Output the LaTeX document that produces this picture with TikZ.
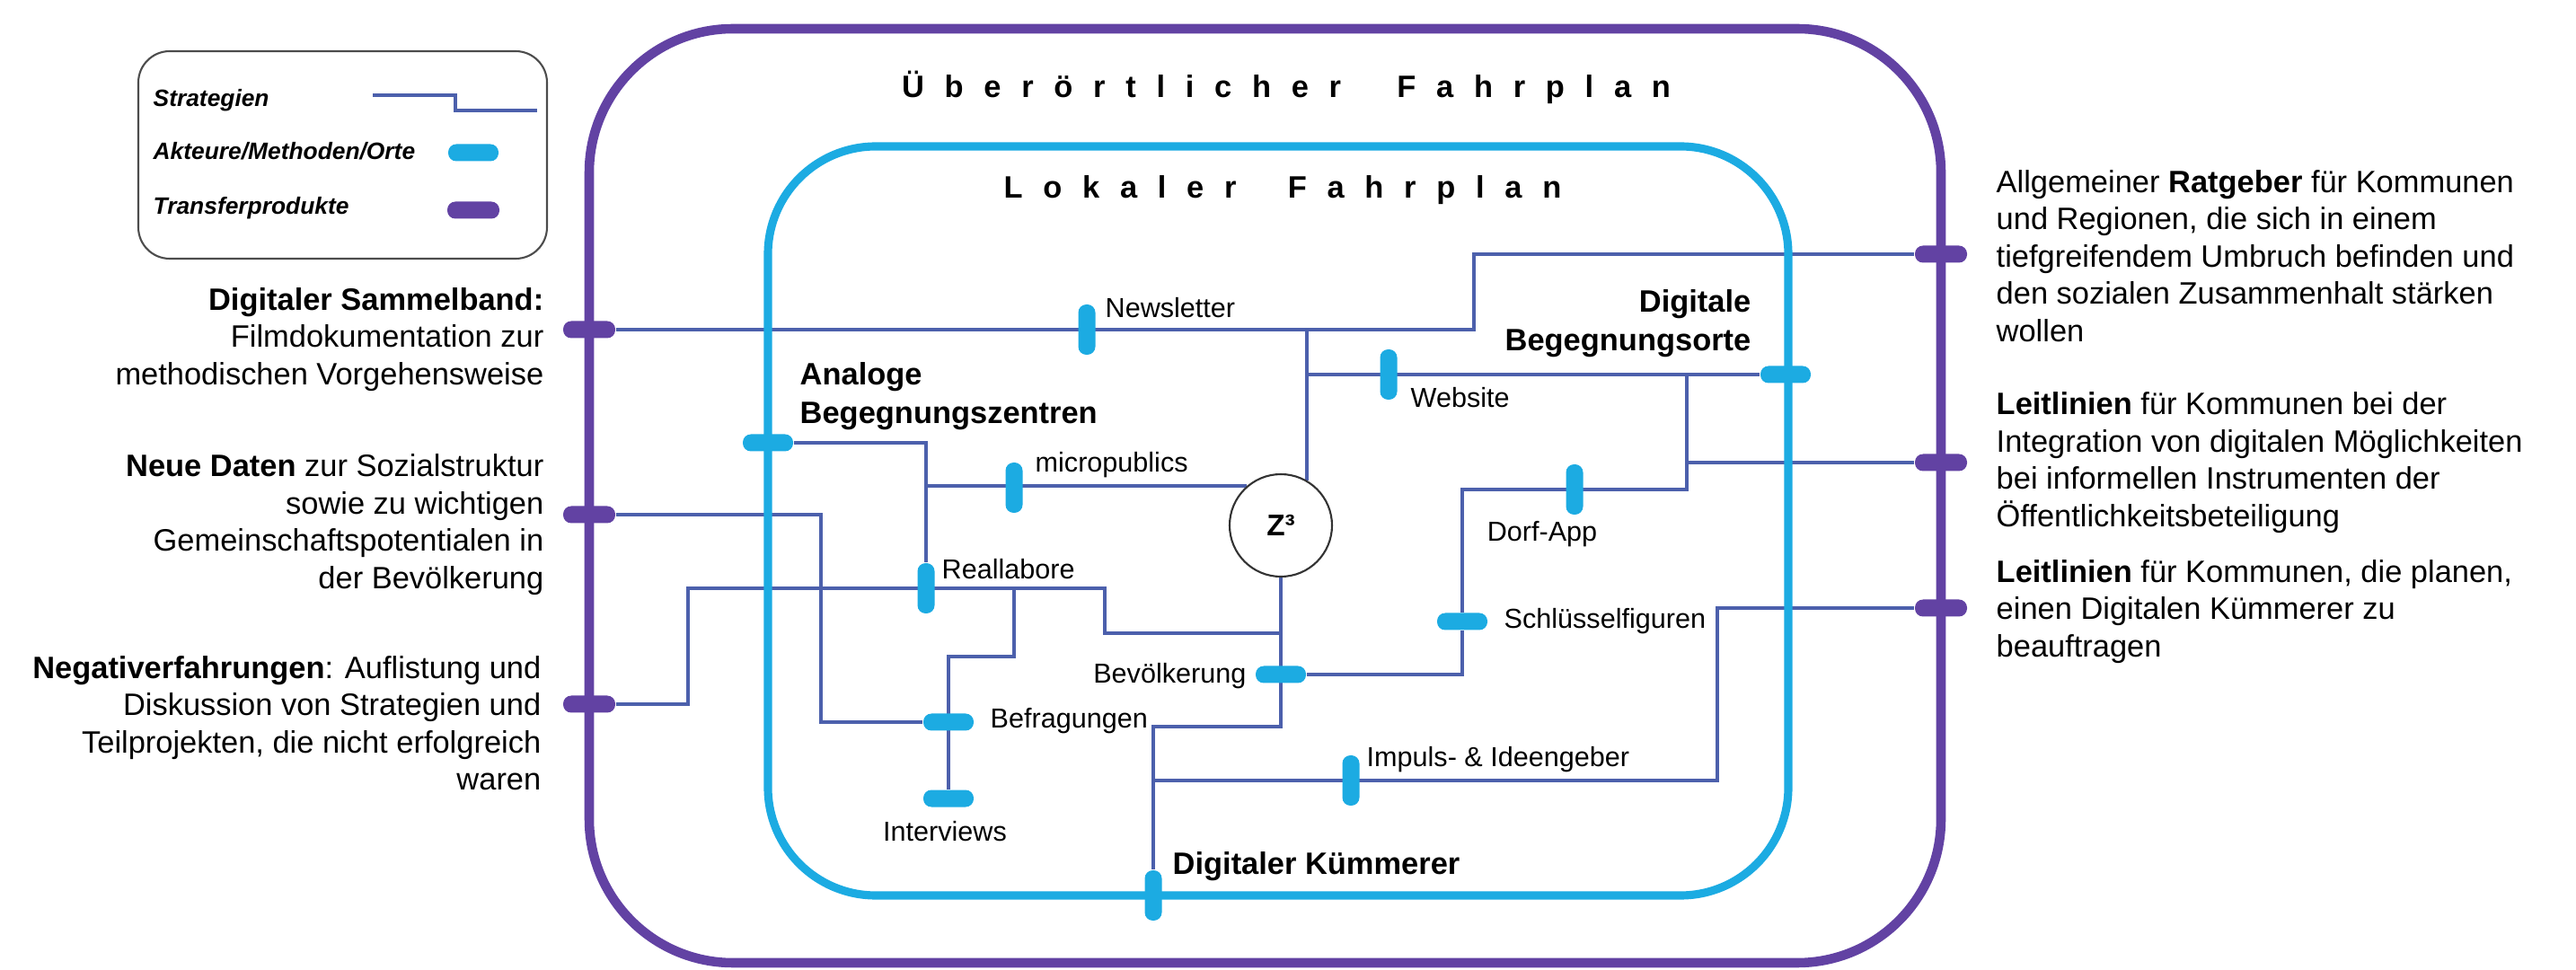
\documentclass[tikz,border=0pt]{standalone}
\usepackage{fontspec}
\setmainfont{Liberation Sans}
\newfontfamily\spacedfont{Liberation Sans}[LetterSpace=66]
\usepackage{xcolor}
\usepackage{tikz}

\definecolor{transferlila}{RGB}{98,66,163}
\definecolor{ortcyan}{RGB}{28,171,226}
\definecolor{strategieblau}{RGB}{76,96,172}

\pgfdeclarelayer{lines}
\pgfsetlayers{lines,main}

\tikzset{
  strat/.style={draw=strategieblau, line width=1.15pt},
  halt/.style={fill=ortcyan, rounded corners=0.09cm, minimum width=0.56cm, minimum height=0.19cm, inner sep=0pt},
  haltv/.style={halt, minimum width=0.19cm, minimum height=0.56cm},
  transfer/.style={fill=transferlila, rounded corners=0.09cm, minimum width=0.58cm, minimum height=0.19cm, inner sep=0pt},
  info/.style={font=\fontsize{9.8}{11.8}\selectfont, inner sep=0pt},
  station/.style={font=\fontsize{8.7}{10.4}\selectfont, inner sep=0pt},
  ort/.style={font=\fontsize{9.8}{12.4}\selectfont\bfseries, inner sep=0pt},
  titel/.style={font=\fontsize{9.8}{11.8}\selectfont\spacedfont\bfseries, inner sep=0pt},
  legende/.style={font=\fontsize{7.5}{9}\selectfont\bfseries\itshape, inner sep=0pt, anchor=west},
  zkreis/.style={circle, draw=black!80, line width=0.6pt, fill=white, minimum size=1.14cm, inner sep=0pt, font=\fontsize{9.5}{11}\selectfont\bfseries}
}

\begin{document}
\begin{tikzpicture}
    \useasboundingbox (0,0) rectangle (28.68,10.79);

    % Legend
    \draw[draw=black!70, line width=0.6pt, rounded corners=0.35cm] (1.54,7.91) rectangle (6.09,10.22);
    \node[legende] (lstrat) at (1.70,9.67) {Strategien};
    \node[legende] (lakteure) at (1.70,9.11) {Akteure/Methoden/Orte};
    \node[legende] (ltransfer) at (1.70,8.47) {Transferprodukte};
    \coordinate (lsA) at (4.15,9.73);
    \coordinate (lsB) at (5.98,9.56);
    \draw[strat] (lsA) -- ++(0.92,0) |- (lsB);
    \node[halt] (lhalt) at (5.27,9.09) {};
    \node[transfer] (ltrans) at (5.27,8.45) {};

    % Frames
    \draw[transferlila, line width=3pt, rounded corners=1.6cm] (6.56,0.07) rectangle (21.61,10.47);
    \draw[ortcyan, line width=2.6pt, rounded corners=1.2cm] (8.55,0.82) rectangle (19.91,9.16);
    \node[titel] (ueber) at (14.32,9.82) {Überörtlicher\hspace{0.3cm} Fahrplan};
    \node[titel] (lokal) at (14.28,8.67) {Lokaler\hspace{0.25cm} Fahrplan};

    % Transferprodukte
    \node[transfer] (sammelband) at (6.56,7.12) {};
    \node[transfer] (neuedaten) at (6.56,5.06) {};
    \node[transfer] (negativ) at (6.56,2.95) {};
    \node[transfer] (ratgeber) at (21.61,7.96) {};
    \node[transfer] (leitlinienA) at (21.61,5.64) {};
    \node[transfer] (leitlinienB) at (21.61,4.02) {};

    % Orte on the local frame
    \node[halt] (analog) at (8.55,5.86) {};
    \node[halt] (digital) at (19.88,6.62) {};
    \node[haltv] (kuemmerer) at (12.84,0.82) {};

    % Akteure / Methoden
    \node[haltv] (newsletter) at (12.10,7.12) {};
    \node[haltv] (website) at (15.46,6.62) {};
    \node[haltv] (micro) at (11.29,5.36) {};
    \node[haltv] (dorfapp) at (17.53,5.34) {};
    \node[haltv] (reallabore) at (10.31,4.24) {};
    \node[halt] (schluessel) at (16.28,3.87) {};
    \node[halt] (bevoelkerung) at (14.26,3.28) {};
    \node[halt] (befragungen) at (10.56,2.75) {};
    \node[halt] (interviews) at (10.56,1.90) {};
    \node[haltv] (impuls) at (15.04,2.10) {};

    \node[zkreis] (Z) at (14.26,4.94) {Z³};

    % Strategien
    \coordinate (knickA) at (16.41,7.12);
    \coordinate (knickB) at (7.66,4.24);
    \coordinate (knickC) at (12.30,3.74);
    \coordinate (knickD) at (14.26,2.70);
    \coordinate (knickE) at (18.78,5.34);
    \coordinate (knickF) at (9.14,2.75);
    \coordinate (knickG) at (11.29,3.48);
    \coordinate (knickH) at (19.12,2.10);
    \begin{pgfonlayer}{lines}
    \draw[strat] (sammelband) -- (knickA) |- (ratgeber);
    \draw[strat] (Z.60) -- (Z.60 |- sammelband);
    \draw[strat] (Z.60 |- digital) -- (digital);
    \draw[strat] (analog) -| (reallabore);
    \draw[strat] (Z.131) -- (Z.131 -| reallabore);
    \draw[strat] (negativ) -| (knickB) -- (knickC |- knickB) |- (Z.south |- knickC);
    \draw[strat] (Z.south) -- (knickD) -| (kuemmerer);
    \draw[strat] (bevoelkerung) -| (schluessel) |- (knickE) -- (knickE |- digital);
    \draw[strat] (knickE |- leitlinienA) -- (leitlinienA);
    \draw[strat] (neuedaten) -| (knickF) -- (befragungen);
    \draw[strat] (knickG |- reallabore) -- (knickG) -| (interviews);
    \draw[strat] (kuemmerer |- knickH) -- (knickH) |- (leitlinienB);
    \end{pgfonlayer}

    % Labels inside
    \node[station, anchor=west] (lnewsletter) at (12.30,7.36) {Newsletter};
    \node[station, anchor=west] (lwebsite) at (15.70,6.36) {Website};
    \node[station, anchor=west] (lmicro) at (11.52,5.61) {micropublics};
    \node[station] (ldorf) at (17.17,4.84) {Dorf-App};
    \node[station, anchor=west] (lreal) at (10.48,4.45) {Reallabore};
    \node[station, anchor=west] (lschluessel) at (16.74,3.87) {Schlüsselfiguren};
    \node[station, anchor=east] (lbevoelkerung) at (13.88,3.26) {Bevölkerung};
    \node[station, anchor=west] (lbefragungen) at (11.02,2.76) {Befragungen};
    \node[station, anchor=west] (limpuls) at (15.21,2.33) {Impuls- \& Ideengeber};
    \node[station] (linterviews) at (10.52,1.53) {Interviews};
    \node[ort, anchor=west] (lkuemmerer) at (13.05,1.14) {Digitaler Kümmerer};
    \node[ort, anchor=west, align=left] (lanalog) at (8.90,6.38) {Analoge\\Begegnungszentren};
    \node[ort, anchor=east, align=right] (ldigital) at (19.50,7.19) {Digitale\\Begegnungsorte};

    % Texts outside
    \node[info, anchor=east, align=right] (txtsammel) at (6.06,7.01) {\textbf{Digitaler Sammelband:}\\Filmdokumentation zur\\methodischen Vorgehensweise};
    \node[info, anchor=east, align=right] (txtdaten) at (6.06,4.95) {\textbf{Neue Daten} zur Sozialstruktur\\sowie zu wichtigen\\Gemeinschaftspotentialen in\\der Bevölkerung};
    \node[info, anchor=east, align=right] (txtnegativ) at (6.03,2.74) {\textbf{Negativerfahrungen}: Auflistung und\\Diskussion von Strategien und\\Teilprojekten, die nicht erfolgreich\\waren};
    \node[info, anchor=west, align=left] (txtratgeber) at (22.22,7.94) {Allgemeiner \textbf{Ratgeber} für Kommunen\\und Regionen, die sich in einem\\tiefgreifendem Umbruch befinden und\\den sozialen Zusammenhalt stärken\\wollen};
    \node[info, anchor=west, align=left] (txtleitA) at (22.22,5.64) {\textbf{Leitlinien} für Kommunen bei der\\Integration von digitalen Möglichkeiten\\bei informellen Instrumenten der\\Öffentlichkeitsbeteiligung};
    \node[info, anchor=west, align=left] (txtleitB) at (22.22,3.98) {\textbf{Leitlinien} für Kommunen, die planen,\\einen Digitalen Kümmerer zu\\beauftragen};
\end{tikzpicture}
\end{document}
